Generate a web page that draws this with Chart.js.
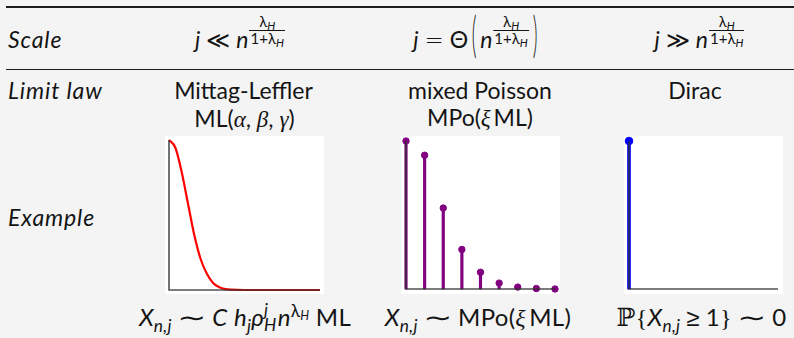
<!DOCTYPE html>
<html>
<head>
<meta charset="utf-8">
<script src="https://cdn.jsdelivr.net/npm/chart.js@4.4.0/dist/chart.umd.min.js"></script>
<style>
  body { margin: 0; width: 794px; height: 338px; overflow: hidden; position: relative;
         background: #f4f4f4; color: #141414; font-family: Lato, "DejaVu Sans", sans-serif; font-size: 23px; }
  .rule { position: absolute; left: 6px; width: 788px; background: #1e1e1e; }
  .t { position: absolute; white-space: nowrap; line-height: 28px; }
  .c { transform: translateX(-50%); }
  .i { font-style: italic; }
  .lab { font-style: italic; letter-spacing: 0.9px; }
  .g { font-family: "Liberation Serif", serif; font-style: italic; }
  .m { font-family: "DejaVu Serif", serif; font-size: 1.05em; }
  .rel { font-family: "DejaVu Sans", sans-serif; font-weight: 300; margin: 0 6px; }
  .tl { display: inline-block; font-family: "DejaVu Sans", sans-serif; transform: scale(1.45, 1); margin: 0 10px; }
  .sb { font-size: 0.72em; font-style: italic; position: relative; top: 0.32em; }
  .sp { font-size: 0.72em; position: relative; top: -0.55em; }
  .frac { display: inline-block; font-size: 15px; line-height: 14px; text-align: center;
          margin-top: -30px; position: relative; top: -4px; margin-left: 1px; }
  .frac span.n, .frac span.d { display: block; padding: 0 1px; }
  .frac span.n { border-bottom: 1px solid #141414; }
  .frac .sb { font-size: 0.75em; top: 0.25em; }
  .bp { display: inline-block; transform: scale(0.8, 2.1); position: relative; top: -6px; font-weight: 300; margin: 0 3px; }
  .ss { display: inline-block; font-size: 0.72em; line-height: 15px; margin-top: -30px; position: relative; top: 5px; font-style: italic; margin-right: 1px; }
  .ss span { display: block; }
  .br { font-family: "Liberation Serif", serif; }
  .bot { font-size: 24px; letter-spacing: 0.3px; }
  .panel { position: absolute; top: 136px; width: 159px; height: 158px; background: #fff; }
</style>
</head>
<body>
<div class="rule" style="top:6px;height:2px"></div>
<div class="rule" style="top:68.7px;height:1.4px"></div>

<div class="t lab" style="left:8px;top:25px">Scale</div>
<div class="t c" style="left:240px;top:25px"><span class="i">j</span><span class="rel">≪</span><span class="i">n</span><span class="frac"><span class="n">λ<span class="sb">H</span></span><span class="d">1+λ<span class="sb">H</span></span></span></div>
<div class="t c" style="left:477px;top:25px"><span class="i">j</span><span class="rel">=</span>Θ<span class="bp">(</span><span class="i">n</span><span class="frac"><span class="n">λ<span class="sb">H</span></span><span class="d">1+λ<span class="sb">H</span></span></span><span class="bp">)</span></div>
<div class="t c" style="left:699.5px;top:25px"><span class="i">j</span><span class="rel">≫</span><span class="i">n</span><span class="frac"><span class="n">λ<span class="sb">H</span></span><span class="d">1+λ<span class="sb">H</span></span></span></div>

<div class="t lab" style="left:8px;top:76px">Limit law</div>
<div class="t c" style="left:243.5px;top:76px">Mittag-Leffler</div>
<div class="t c" style="left:244.5px;top:103.5px">ML(<span class="g">α</span>, <span class="g">β</span>, <span class="g">γ</span>)</div>
<div class="t c" style="left:480px;top:76px">mixed Poisson</div>
<div class="t c" style="left:480px;top:103px">MPo(<span class="g">ξ</span>&thinsp;ML)</div>
<div class="t c" style="left:695px;top:76px">Dirac</div>

<div class="t lab" style="left:8px;top:203px">Example</div>

<div class="panel" style="left:165px"><canvas id="mittag" width="159" height="158"></canvas></div>
<div class="panel" style="left:401px"><canvas id="poisson" width="159" height="158"></canvas></div>
<div class="panel" style="left:624px"><canvas id="dirac" width="159" height="158"></canvas></div>

<div class="t c bot" style="left:245px;top:303px"><span class="i">X</span><span class="sb">n,j</span><span class="tl">∼</span><span class="i">C</span>&nbsp;<span class="i">h</span><span class="sb">j</span><span class="i">ρ</span><span class="ss"><span>j</span><span>H</span></span><span class="i">n</span><span class="sp">λ<span class="sb">H</span></span>&nbsp;ML</div>
<div class="t c bot" style="left:478px;top:303px"><span class="i">X</span><span class="sb">n,j</span><span class="tl">∼</span>MPo(<span class="g">ξ</span>&thinsp;ML)</div>
<div class="t c bot" style="left:701.5px;top:303px"><span class="m">ℙ</span><span class="br">{</span><span class="i">X</span><span class="sb">n,j</span><span class="rel">≥</span>1<span class="br">}</span><span class="tl">∼</span>0</div>

<script>
// values
const mlX = [0, 0.25, 0.5, 0.75, 1, 1.25, 1.5, 1.75, 2, 2.25, 2.5, 3, 4, 5, 6];
const mlDensity = [1, 0.95, 0.79, 0.58, 0.37, 0.21, 0.11, 0.047, 0.018, 0.006, 0.002, 0, 0, 0, 0];

const poissonK = [0, 1, 2, 3, 4, 5, 6, 7, 8];
const poissonP = [1, 0.904, 0.547, 0.267, 0.113, 0.04, 0.013, 0.003, 0];

const diracK = [0];
const diracP = [1];

const axisColor = 'rgba(50, 50, 50, 0.85)';

// left and bottom axis lines, painted after the data like in the original
const axesOnTop = {
    id: 'axesOnTop',
    afterDatasetsDraw(chart) {
        const { ctx, chartArea } = chart;
        ctx.save();
        ctx.strokeStyle = axisColor;
        ctx.lineWidth = 1.6;
        ctx.beginPath();
        ctx.moveTo(chartArea.left, chartArea.top);
        ctx.lineTo(chartArea.left, chartArea.bottom);
        ctx.lineTo(chartArea.right, chartArea.bottom);
        ctx.stroke();
        ctx.restore();
    }
};

function plainScales(xMax) {
    const axis = {
        type: 'linear',
        offset: false,
        grid: { display: false, drawTicks: false },
        ticks: { display: false },
        border: { display: false }
    };
    return {
        x: Object.assign({}, axis, { min: 0, max: xMax }),
        y: Object.assign({}, axis, { min: 0, max: 1 })
    };
}

function baseOptions(xMax, pad) {
    return {
        responsive: false,
        animation: false,
        devicePixelRatio: 1,
        layout: { padding: pad },
        scales: plainScales(xMax),
        plugins: { legend: { display: false }, tooltip: { enabled: false } }
    };
}

function toPoints(xs, ys) {
    return xs.map((x, i) => ({ x: x, y: ys[i] }));
}

// Mittag-Leffler density
new Chart(document.getElementById('mittag').getContext('2d'), {
    type: 'line',
    data: {
        datasets: [{
            data: toPoints(mlX, mlDensity),
            borderColor: '#ff0000',
            borderWidth: 2.2,
            pointRadius: 0,
            cubicInterpolationMode: 'monotone',
            clip: false
        }]
    },
    options: baseOptions(6, { left: 4, right: 4, top: 4, bottom: 4 }),
    plugins: [axesOnTop]
});

// stem plots: thin bars plus dots
function stemChart(id, xs, ys, color, stemWidth, dotRadius, xMax, pad) {
    new Chart(document.getElementById(id).getContext('2d'), {
        type: 'bar',
        data: {
            datasets: [{
                type: 'bar',
                data: toPoints(xs, ys),
                backgroundColor: color,
                barThickness: stemWidth,
                borderWidth: 0,
                clip: false
            }, {
                type: 'scatter',
                data: toPoints(xs, ys),
                backgroundColor: color,
                borderColor: color,
                pointRadius: dotRadius,
                clip: false
            }]
        },
        options: baseOptions(xMax, pad),
        plugins: [axesOnTop]
    });
}

stemChart('poisson', poissonK, poissonP, '#800080', 2.5, 3.2, 8, { left: 5, right: 4, top: 4, bottom: 4 });
stemChart('dirac', diracK, diracP, '#0000ff', 3, 3.8, 8, { left: 5, right: 2, top: 4, bottom: 4 });
</script>
</body>
</html>
